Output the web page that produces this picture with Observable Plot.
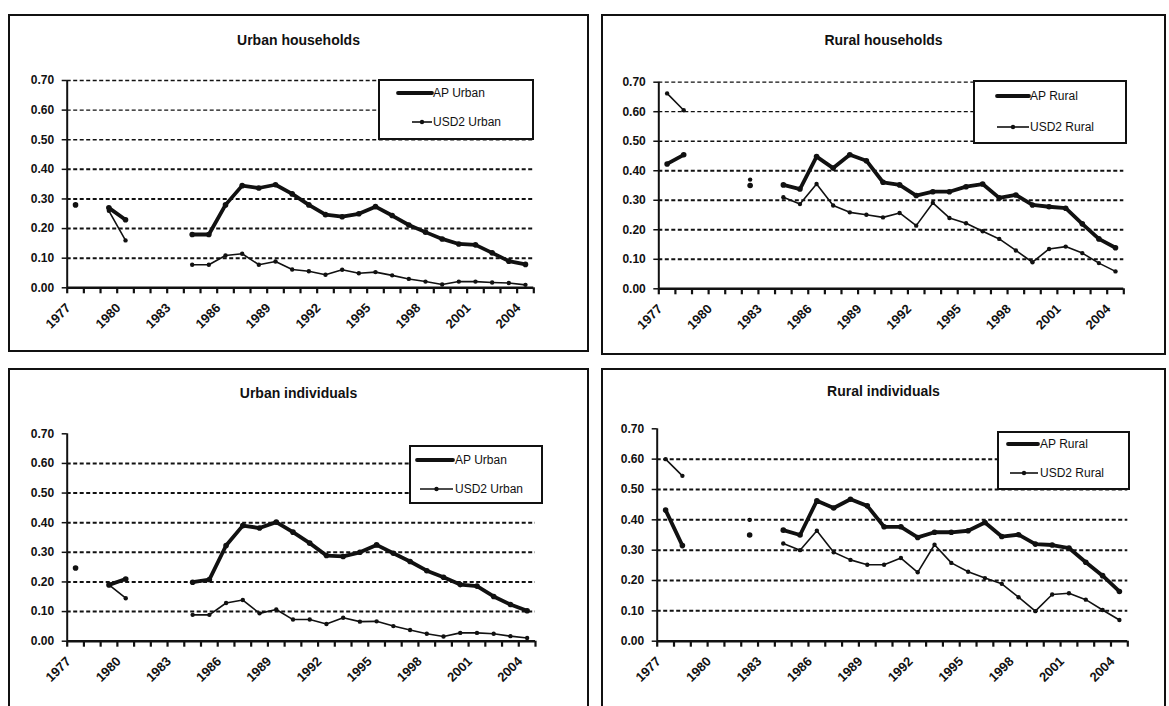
<!DOCTYPE html>
<html><head><meta charset="utf-8">
<script src="https://cdn.jsdelivr.net/npm/d3@7"></script>
<script src="https://cdn.jsdelivr.net/npm/@observablehq/plot@0.6"></script>
<style>
body{margin:0;background:#fff;font-family:"Liberation Sans",Arial,sans-serif;}
#root{position:relative;width:1169px;height:706px;overflow:hidden;background:#fff;}
.panel{position:absolute;border:2px solid #111;box-sizing:border-box;}
.plotwrap{position:absolute;}
.plotwrap svg{overflow:visible;max-width:none;}
.title{position:absolute;text-align:center;font-weight:bold;font-size:14px;color:#111;transform:translateY(-50%);}
.legend{position:absolute;border:2px solid #111;background:#fff;box-sizing:border-box;}
.legend .lab{position:absolute;font-size:12px;color:#111;transform:translateY(-50%);white-space:nowrap;}
.legend svg{position:absolute;overflow:visible;}
</style></head><body><div id="root"></div>
<script>
// ---- categories and ticks ----
const categories = [1977,1978,1979,1980,1981,1982,1983,1984,1985,1986,1987,1988,1989,1990,1991,1992,1993,1994,1995,1996,1997,1998,1999,2000,2001,2002,2003,2004];
const tickYears = [1977,1980,1983,1986,1989,1992,1995,1998,2001,2004];
const yTicks = [0,0.1,0.2,0.3,0.4,0.5,0.6,0.7];
const gridTop = [0.1,0.2,0.3,0.4,0.5,0.6,0.7];
const gridBottom = [0.1,0.2,0.3,0.4,0.5,0.6];

const titles = ["Urban households","Rural households","Urban individuals","Rural individuals"];
const urbanNames = ["AP Urban","USD2 Urban"];
const ruralNames = ["AP Rural","USD2 Rural"];

// ---- series values (one per category, null = missing) ----
const urbanHouseholdsAP   = [0.28,null,0.27,0.23,null,null,null,0.18,0.18,0.28,0.345,0.337,0.348,0.317,0.28,0.247,0.24,0.25,0.274,0.244,0.212,0.188,0.165,0.148,0.145,0.118,0.09,0.079];
const urbanHouseholdsUSD2 = [null,null,0.26,0.16,null,null,null,0.078,0.078,0.109,0.115,0.078,0.089,0.062,0.056,0.044,0.061,0.049,0.053,0.042,0.03,0.021,0.011,0.021,0.021,0.018,0.016,0.01];
const ruralHouseholdsAP   = [0.423,0.454,null,null,null,0.35,null,0.352,0.338,0.448,0.409,0.454,0.434,0.361,0.352,0.316,0.329,0.329,0.346,0.355,0.308,0.318,0.284,0.278,0.273,0.22,0.169,0.139];
const ruralHouseholdsUSD2 = [0.662,0.605,null,null,null,0.37,null,0.31,0.287,0.355,0.282,0.259,0.251,0.242,0.257,0.214,0.291,0.24,0.222,0.195,0.169,0.13,0.09,0.135,0.143,0.121,0.087,0.059];
const urbanIndividualsAP   = [0.247,null,0.19,0.21,null,null,null,0.199,0.208,0.323,0.39,0.382,0.402,0.368,0.331,0.289,0.286,0.3,0.325,0.297,0.269,0.238,0.216,0.191,0.186,0.151,0.124,0.103];
const urbanIndividualsUSD2 = [null,null,0.19,0.145,null,null,null,0.089,0.089,0.129,0.139,0.094,0.107,0.073,0.073,0.058,0.079,0.066,0.067,0.051,0.038,0.025,0.016,0.028,0.028,0.025,0.017,0.011];
const ruralIndividualsAP   = [0.432,0.315,null,null,null,0.35,null,0.366,0.35,0.463,0.439,0.468,0.446,0.377,0.377,0.342,0.359,0.359,0.364,0.391,0.345,0.351,0.32,0.317,0.307,0.26,0.216,0.164];
const ruralIndividualsUSD2 = [0.60,0.545,null,null,null,0.40,null,0.322,0.30,0.364,0.293,0.268,0.252,0.252,0.274,0.227,0.318,0.258,0.229,0.208,0.189,0.145,0.099,0.154,0.158,0.137,0.103,0.07];

// ---- layout (page pixels) ----
const panels = [
  {title:titles[0], ap:urbanHouseholdsAP, usd2:urbanHouseholdsUSD2, names:urbanNames, grid:gridTop,
   box:{l:8,t:14,r:589,b:352}, plot:{x0:66.7,x1:533.3,yTop:80,yBot:287.3}, titleY:40,
   legend:{l:378,t:79,r:534,b:140, a:{x0:398,x1:432,y:93}, u:{x0:412,x1:432,y:122}, tx:433}},
  {title:titles[1], ap:ruralHouseholdsAP, usd2:ruralHouseholdsUSD2, names:ruralNames, grid:gridTop,
   box:{l:601,t:14,r:1166,b:355}, plot:{x0:658.3,x1:1123.3,yTop:81.7,yBot:288.3}, titleY:40,
   legend:{l:973,t:80,r:1127,b:144, a:{x0:997,x1:1029,y:96}, u:{x0:997,x1:1029,y:127}, tx:1030}},
  {title:titles[2], ap:urbanIndividualsAP, usd2:urbanIndividualsUSD2, names:urbanNames, grid:gridBottom,
   box:{l:8,t:368,r:589,b:718}, plot:{x0:66.7,x1:535,yTop:433.3,yBot:640.7}, titleY:393,
   legend:{l:409,t:445,r:543,b:504, a:{x0:417,x1:453,y:460}, u:{x0:420,x1:453,y:489}, tx:455}},
  {title:titles[3], ap:ruralIndividualsAP, usd2:ruralIndividualsUSD2, names:ruralNames, grid:gridBottom,
   box:{l:601,t:368,r:1166,b:718}, plot:{x0:656.7,x1:1127.3,yTop:428.3,yBot:640.7}, titleY:391,
   legend:{l:997,t:431,r:1130,b:490, a:{x0:1008,x1:1038,y:444}, u:{x0:1010,x1:1038,y:473}, tx:1040}}
];

const root = document.getElementById("root");
const xDomain = [categories[0] - 0.5, categories[categories.length - 1] + 0.5];
const boundaries = [categories[0] - 0.5, ...categories.map(c => c + 0.5)];
const ink = "#111";

for (const p of panels) {
  const rows = categories.map((year, i) => ({year, ap: p.ap[i], usd2: p.usd2[i]}));
  const b = p.box, q = p.plot;
  const chart = Plot.plot({
    width: b.r - b.l,
    height: b.b - b.t,
    marginLeft: q.x0 - b.l,
    marginRight: b.r - q.x1,
    marginTop: q.yTop - b.t,
    marginBottom: b.b - q.yBot,
    style: {fontFamily: "'Liberation Sans', Arial, sans-serif", fontSize: "11px", color: ink, background: "transparent", overflow: "visible"},
    x: {domain: xDomain, axis: null, label: null},
    y: {domain: [0, 0.7], axis: null, label: null},
    marks: [
      Plot.ruleY(p.grid, {stroke: ink, strokeWidth: d => (p.grid === gridTop && d >= 0.5) ? 1.3 : 2, strokeDasharray: "4,2.5"}),
      Plot.axisY(yTicks, {label: null, tickSize: 5, tickPadding: 8, tickFormat: d3.format(".2f"), fontSize: 12, fontWeight: "bold", stroke: ink, strokeWidth: 1.5, fill: ink}),
      Plot.axisX(boundaries, {label: null, tickSize: 6, tickFormat: () => "", stroke: ink, strokeWidth: 2.2}),
      Plot.axisX(tickYears, {label: null, tickSize: 0, tickRotate: -45, textAnchor: "end", tickPadding: 18, dx: -7, fontSize: 13, fontWeight: "bold", fill: ink, tickFormat: d => String(d)}),
      Plot.ruleY([0], {stroke: ink, strokeWidth: 2.5}),
      Plot.ruleX([xDomain[0]], {stroke: ink, strokeWidth: 2}),
      Plot.line(rows, {x: "year", y: "usd2", stroke: ink, strokeWidth: 1.6}),
      Plot.dot(rows, {x: "year", y: "usd2", r: 2.2, fill: ink}),
      Plot.line(rows, {x: "year", y: "ap", stroke: ink, strokeWidth: 3.8, strokeLinejoin: "round"}),
      Plot.dot(rows, {x: "year", y: "ap", r: 2.8, fill: ink})
    ]
  });
  const wrap = document.createElement("div");
  wrap.className = "plotwrap";
  wrap.style.left = b.l + "px"; wrap.style.top = b.t + "px";
  wrap.appendChild(chart);
  root.appendChild(wrap);

  const border = document.createElement("div");
  border.className = "panel";
  Object.assign(border.style, {left: b.l + "px", top: b.t + "px", width: (b.r - b.l) + "px", height: (b.b - b.t) + "px"});
  root.appendChild(border);

  const t = document.createElement("div");
  t.className = "title";
  Object.assign(t.style, {left: b.l + "px", width: (b.r - b.l) + "px", top: p.titleY + "px"});
  t.textContent = p.title;
  root.appendChild(t);

  const L = p.legend;
  const lg = document.createElement("div");
  lg.className = "legend";
  Object.assign(lg.style, {left: L.l + "px", top: L.t + "px", width: (L.r - L.l) + "px", height: (L.b - L.t) + "px"});
  const ns = "http://www.w3.org/2000/svg";
  const sv = document.createElementNS(ns, "svg");
  sv.setAttribute("width", L.r - L.l); sv.setAttribute("height", L.b - L.t);
  sv.style.left = "-2px"; sv.style.top = "-2px";
  const mk = (name, attrs) => { const e = document.createElementNS(ns, name); for (const k in attrs) e.setAttribute(k, attrs[k]); sv.appendChild(e); };
  mk("line", {x1: L.a.x0 - L.l, x2: L.a.x1 - L.l, y1: L.a.y - L.t, y2: L.a.y - L.t, stroke: ink, "stroke-width": 3.8, "stroke-linecap": "round"});
  mk("line", {x1: L.u.x0 - L.l, x2: L.u.x1 - L.l, y1: L.u.y - L.t, y2: L.u.y - L.t, stroke: ink, "stroke-width": 1.6});
  mk("circle", {cx: (L.u.x0 + L.u.x1) / 2 - L.l, cy: L.u.y - L.t, r: 2.2, fill: ink});
  lg.appendChild(sv);
  const la = document.createElement("div"); la.className = "lab";
  Object.assign(la.style, {left: (L.tx - L.l - 2) + "px", top: (L.a.y - L.t - 2) + "px"}); la.textContent = p.names[0];
  const lu = document.createElement("div"); lu.className = "lab";
  Object.assign(lu.style, {left: (L.tx - L.l - 2) + "px", top: (L.u.y - L.t - 2) + "px"}); lu.textContent = p.names[1];
  lg.appendChild(la); lg.appendChild(lu);
  root.appendChild(lg);
}
</script></body></html>
